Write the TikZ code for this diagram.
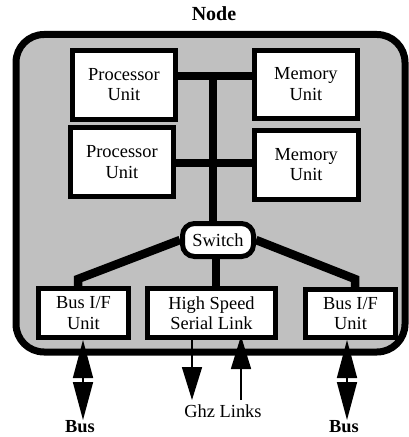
\documentclass[tikz,border=0pt]{standalone}
\usepackage{fontspec}
\setmainfont{Liberation Serif}
\usetikzlibrary{arrows.meta}
\pgfdeclarelayer{back}
\pgfdeclarelayer{bg}
\pgfsetlayers{back,bg,main}
\definecolor{panel}{RGB}{192,192,192}
\tikzset{
  unit/.style={draw, line width=5bp, fill=white, inner sep=0pt, align=center,
    font=\fontsize{18.4bp}{20.5bp}\selectfont},
  bar/.style={line width=8bp},
  link/.style={line width=8.5bp, line join=miter},
  lbl/.style={inner sep=0pt, font=\fontsize{18.4bp}{20.5bp}\selectfont},
  boldlbl/.style={inner sep=0pt, font=\fontsize{18.4bp}{20.5bp}\selectfont\bfseries},
  bushead/.tip={Triangle[length=38bp,width=20bp]},
  ghzhead/.tip={Triangle[length=33bp,width=20bp]},
  thin/.style={line width=1.6bp},
}
\begin{document}
\begin{tikzpicture}[x=1bp,y=-1bp]
\useasboundingbox (0,0) rectangle (408,437);

\begin{pgfonlayer}{back}
  \draw[line width=7bp, fill=panel, rounded corners=28bp] (16,34.5) rectangle (405,352);
\end{pgfonlayer}

\node[boldlbl, font=\fontsize{20bp}{22bp}\selectfont\bfseries, anchor=base] (title) at (214,21) {Node};

\node[unit, minimum width=103bp, minimum height=69bp] (p1) at (124,84.7) {Processor\\Unit};
\node[unit, minimum width=103.3bp, minimum height=68bp] (m1) at (305.9,84.2) {Memory\\Unit};
\node[unit, minimum width=103.3bp, minimum height=69.3bp] (p2) at (121.9,162.2) {Processor\\Unit};
\node[unit, minimum width=104bp, minimum height=69bp] (m2) at (306.2,164.7) {Memory\\Unit};
\node[unit, rounded corners=12bp, minimum width=71bp, minimum height=33bp] (sw) at (218,240) {Switch};
\node[unit, minimum width=90bp, minimum height=49bp] (b1) at (83.5,313) {Bus I/F\\Unit};
\node[unit, minimum width=128bp, minimum height=49bp] (hs) at (211.5,313) {High Speed\\Serial Link};
\node[unit, minimum width=90bp, minimum height=48bp] (b2) at (350.5,313.5) {Bus I/F\\Unit};

\coordinate (bt) at (213,76);
\coordinate (bm) at (213,163);
\coordinate (cx) at (216,0);
\coordinate (lk) at (78,279);
\coordinate (rk) at (355,279);

\begin{pgfonlayer}{bg}
  \draw[bar] (p1.east |- bt) -- (m1.west |- bt);
  \draw[bar] (p2.east |- bm) -- (m2.west |- bm);
  \draw[bar] (bt) -- (sw.north -| bt);
  \draw[bar] (sw.south -| cx) -- (hs.north -| cx);
  \draw[link] (sw.west) -- (lk) -- (b1.north -| lk);
  \draw[link] (sw.east) -- (rk) -- (b2.north -| rk);
\end{pgfonlayer}

\coordinate (be1) at (83,420);
\coordinate (be2) at (347,420);
\coordinate (gd) at (192,400);
\coordinate (gu) at (241,400);
\coordinate (gut) at (241,336);

\draw[thin, bushead-bushead] (b1.south -| be1) -- (be1);
\draw[thin, bushead-bushead] (b2.south -| be2) -- (be2);
\draw[thin, -ghzhead] (hs.south -| gd) -- (gd);
\draw[thin, -ghzhead] (gu) -- (gut);

\node[lbl, anchor=base] (ghz) at (223,417) {Ghz Links};
\node[boldlbl, anchor=base] (busl) at (80,432) {Bus};
\node[boldlbl, anchor=base] (busr) at (344,432) {Bus};
\end{tikzpicture}
\end{document}
